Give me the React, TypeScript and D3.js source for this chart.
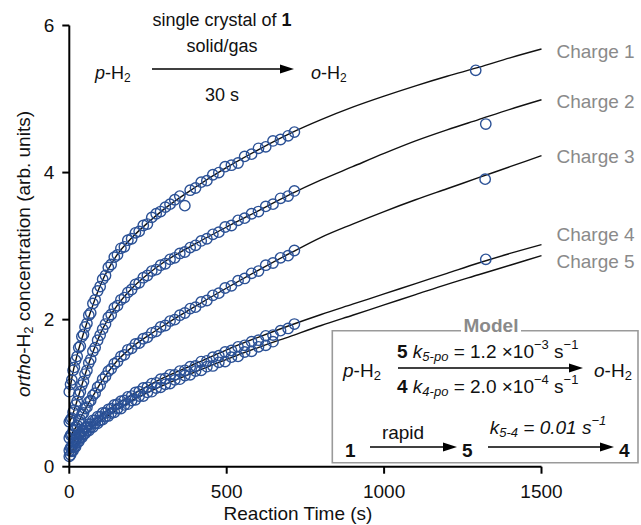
import React from 'react';
import * as d3 from 'd3';

// ---------- data ----------
const TIME = [0, 4, 8, 12, 16, 20, 25, 30, 35, 40, 45, 50, 56, 62, 68, 75, 82, 90, 98, 106, 115, 124, 133, 143, 153, 164, 175, 186, 198, 210, 222, 235, 248, 262, 276, 290, 305, 320, 335, 351, 367, 384, 401, 419, 437, 456, 475, 495, 515, 536, 557, 579, 601, 624, 647, 671, 695, 715];

const CHARGE1 = [1.02, 1.12, 1.18, 1.31, 1.35, 1.45, 1.50, 1.62, 1.64, 1.77, 1.80, 1.90, 1.95, 2.06, 2.09, 2.22, 2.27, 2.39, 2.45, 2.55, 2.60, 2.71, 2.75, 2.85, 2.88, 2.97, 2.99, 3.08, 3.10, 3.18, 3.20, 3.28, 3.30, 3.39, 3.44, 3.47, 3.53, 3.57, 3.63, 3.68, 3.55, 3.76, 3.79, 3.87, 3.89, 3.97, 4.00, 4.08, 4.10, 4.13, 4.22, 4.25, 4.33, 4.35, 4.43, 4.45, 4.50, 4.55];
const CHARGE2 = [0.61, 0.64, 0.66, 0.74, 0.77, 0.84, 0.89, 0.98, 1.02, 1.11, 1.16, 1.26, 1.31, 1.41, 1.46, 1.57, 1.62, 1.72, 1.79, 1.87, 1.94, 2.03, 2.07, 2.16, 2.19, 2.27, 2.30, 2.37, 2.41, 2.48, 2.50, 2.57, 2.60, 2.66, 2.68, 2.74, 2.76, 2.82, 2.84, 2.90, 2.92, 2.98, 3.01, 3.07, 3.10, 3.16, 3.19, 3.26, 3.28, 3.35, 3.38, 3.44, 3.47, 3.54, 3.57, 3.65, 3.68, 3.75];
const CHARGE3 = [0.39, 0.43, 0.44, 0.49, 0.50, 0.54, 0.56, 0.62, 0.64, 0.71, 0.73, 0.79, 0.81, 0.88, 0.90, 0.97, 1.00, 1.08, 1.11, 1.19, 1.23, 1.30, 1.33, 1.40, 1.43, 1.50, 1.52, 1.59, 1.61, 1.67, 1.68, 1.74, 1.76, 1.82, 1.84, 1.90, 1.92, 1.98, 2.00, 2.06, 2.09, 2.15, 2.17, 2.24, 2.26, 2.33, 2.36, 2.43, 2.46, 2.53, 2.56, 2.63, 2.66, 2.74, 2.77, 2.84, 2.87, 2.94];
const CHARGE4 = [0.22, 0.26, 0.27, 0.32, 0.33, 0.37, 0.39, 0.44, 0.45, 0.49, 0.49, 0.53, 0.54, 0.58, 0.58, 0.63, 0.63, 0.68, 0.68, 0.73, 0.73, 0.78, 0.79, 0.84, 0.85, 0.89, 0.90, 0.95, 0.96, 1.01, 1.02, 1.07, 1.08, 1.13, 1.14, 1.19, 1.20, 1.25, 1.25, 1.30, 1.31, 1.36, 1.37, 1.43, 1.44, 1.49, 1.51, 1.56, 1.58, 1.63, 1.65, 1.70, 1.72, 1.78, 1.79, 1.85, 1.88, 1.94];
const CHARGE5 = [0.14, 0.16, 0.21, 0.22, 0.27, 0.27, 0.33, 0.34, 0.39, 0.40, 0.44, 0.45, 0.49, 0.49, 0.54, 0.54, 0.59, 0.59, 0.63, 0.64, 0.68, 0.69, 0.73, 0.74, 0.79, 0.79, 0.84, 0.85, 0.90, 0.91, 0.96, 0.96, 1.01, 1.02, 1.07, 1.08, 1.12, 1.13, 1.18, 1.19, 1.24, 1.25, 1.30, 1.31, 1.36, 1.37, 1.42, 1.43, 1.49, 1.50, 1.56, 1.57, 1.63, 1.65, 1.70];

// late single measurements (charges 1-4)
const LATE_T = [1291, 1323, 1321, 1323];
const LATE_V = [5.39, 4.66, 3.91, 2.82];

// model fit curves
const FIT_T = [0, 10, 25, 50, 75, 100, 150, 200, 250, 300, 400, 500, 600, 700, 800, 900, 1000, 1100, 1200, 1300, 1400, 1500];
const FIT1 = [1.0, 1.25, 1.52, 1.88, 2.2, 2.48, 2.87, 3.12, 3.32, 3.5, 3.8, 4.07, 4.31, 4.53, 4.72, 4.89, 5.04, 5.18, 5.31, 5.43, 5.56, 5.68];
const FIT2 = [0.6, 0.7, 0.9, 1.25, 1.56, 1.82, 2.18, 2.43, 2.62, 2.78, 3.03, 3.26, 3.48, 3.70, 3.90, 4.08, 4.26, 4.43, 4.58, 4.72, 4.86, 4.99];
const FIT3 = [0.39, 0.46, 0.57, 0.78, 0.96, 1.14, 1.43, 1.63, 1.78, 1.92, 2.18, 2.43, 2.67, 2.9, 3.12, 3.30, 3.47, 3.63, 3.78, 3.93, 4.08, 4.23];
const FIT4 = [0.22, 0.3, 0.4, 0.52, 0.62, 0.7, 0.85, 0.98, 1.1, 1.21, 1.4, 1.59, 1.76, 1.92, 2.07, 2.21, 2.35, 2.49, 2.63, 2.77, 2.9, 3.02];
const FIT5 = [0.14, 0.22, 0.33, 0.46, 0.55, 0.63, 0.77, 0.9, 1.01, 1.11, 1.29, 1.46, 1.62, 1.77, 1.92, 2.06, 2.2, 2.34, 2.48, 2.61, 2.74, 2.87];

const SERIES_NAMES = ['Charge 1', 'Charge 2', 'Charge 3', 'Charge 4', 'Charge 5'];
const X_TICKS = [0, 500, 1000, 1500];
const Y_TICKS = [0, 2, 4, 6];

// ---------- layout ----------
const W = 641;
const H = 525;
const FONT = "'Liberation Sans', Arial, Helvetica, sans-serif";
const BLUE = '#2b5196';
const GRAY = '#8a8a8a';
const LABEL_DY = [2, 2, 1, -10, 6];

function Arrow({ x1, x2, y }: { x1: number; x2: number; y: number }) {
  return (
    <g>
      <line x1={x1} x2={x2 - 10} y1={y} y2={y} stroke="#000" strokeWidth={1.6} />
      <path d={`M${x2},${y} L${x2 - 14},${y - 4.5} L${x2 - 14},${y + 4.5} Z`} fill="#000" />
    </g>
  );
}

export default function App() {
  const x = d3.scaleLinear().domain([0, 1500]).range([69.3, 541.5]);
  const y = d3.scaleLinear().domain([0, 6]).range([466.7, 25.5]);

  const fits = [FIT1, FIT2, FIT3, FIT4, FIT5];
  const data = [CHARGE1, CHARGE2, CHARGE3, CHARGE4, CHARGE5];

  const lineGen = d3
    .line<[number, number]>()
    .x((d) => x(d[0]))
    .y((d) => y(d[1]))
    .curve(d3.curveMonotoneX);

  const points: { cx: number; cy: number; key: string }[] = [];
  data.forEach((vals, s) => {
    vals.forEach((v, i) => {
      points.push({ cx: x(TIME[i]), cy: y(v), key: `p${s}-${i}` });
    });
  });
  LATE_T.forEach((t, i) => points.push({ cx: x(t), cy: y(LATE_V[i]), key: `late${i}` }));

  const x0 = x(0);
  const y0 = y(0);

  return (
    <svg
      width={W}
      height={H}
      viewBox={`0 0 ${W} ${H}`}
      style={{ position: 'absolute', left: 0, top: 0, background: '#fff' }}
      fontFamily={FONT}
    >
      <rect x={0} y={0} width={W} height={H} fill="#fff" />

      {/* fit lines */}
      {fits.map((f, s) => (
        <path
          key={`fit${s}`}
          d={lineGen(FIT_T.map((t, i) => [t, f[i]] as [number, number])) || ''}
          fill="none"
          stroke="#111"
          strokeWidth={1.4}
        />
      ))}

      {/* data points */}
      {points.map((p) => (
        <circle key={p.key} cx={p.cx} cy={p.cy} r={5.2} fill="none" stroke={BLUE} strokeWidth={1.4} />
      ))}

      {/* series labels */}
      {fits.map((f, s) => (
        <text
          key={`lab${s}`}
          x={x(1500) + 15}
          y={y(f[f.length - 1]) + LABEL_DY[s]}
          fontSize={19}
          fill={GRAY}
          dominantBaseline="central"
        >
          {SERIES_NAMES[s]}
        </text>
      ))}

      {/* axes */}
      <line x1={x0} x2={x0} y1={y(6)} y2={y0} stroke="#000" strokeWidth={2} />
      <line x1={x0} x2={x(1500)} y1={y0} y2={y0} stroke="#000" strokeWidth={2} />
      {Y_TICKS.map((t) => (
        <g key={`yt${t}`}>
          <line x1={x0 - 7} x2={x0} y1={y(t)} y2={y(t)} stroke="#000" strokeWidth={2} />
          <text x={x0 - 15} y={y(t)} fontSize={19} textAnchor="end" dominantBaseline="central" fill="#111">
            {t}
          </text>
        </g>
      ))}
      {X_TICKS.map((t) => (
        <g key={`xt${t}`}>
          <line x1={x(t)} x2={x(t)} y1={y0} y2={y0 + 7} stroke="#000" strokeWidth={2} />
          <text x={x(t)} y={491} fontSize={19} textAnchor="middle" dominantBaseline="central" fill="#111">
            {t}
          </text>
        </g>
      ))}
      <text x={298} y={513} fontSize={19} textAnchor="middle" dominantBaseline="central" fill="#111">
        Reaction Time (s)
      </text>
      <text
        transform="translate(23,254) rotate(-90)"
        fontSize={19}
        textAnchor="middle"
        dominantBaseline="central"
        fill="#111"
      >
        <tspan fontStyle="italic">ortho</tspan>
        <tspan>-H</tspan>
        <tspan fontSize={13} dy={5}>2</tspan>
        <tspan dy={-5}> concentration (arb. units)</tspan>
      </text>

      {/* top annotation */}
      <text x={95} y={73} fontSize={18} dominantBaseline="central" fill="#111">
        <tspan fontStyle="italic">p</tspan>
        <tspan>-H</tspan>
        <tspan fontSize={12} dy={5}>2</tspan>
      </text>
      <Arrow x1={152} x2={294} y={69} />
      <text x={311} y={73} fontSize={18} dominantBaseline="central" fill="#111">
        <tspan fontStyle="italic">o</tspan>
        <tspan>-H</tspan>
        <tspan fontSize={12} dy={5}>2</tspan>
      </text>
      <text x={222} y={20} fontSize={18} textAnchor="middle" dominantBaseline="central" fill="#111">
        single crystal of <tspan fontWeight="bold">1</tspan>
      </text>
      <text x={222} y={46} fontSize={18} textAnchor="middle" dominantBaseline="central" fill="#111">
        solid/gas
      </text>
      <text x={222} y={95} fontSize={18} textAnchor="middle" dominantBaseline="central" fill="#111">
        30 s
      </text>

      {/* model box */}
      <path d="M461,330.7 H332.3 V462.7 H638 V330.7 H521" fill="none" stroke="#9a9a9a" strokeWidth={1.6} />
      <text x={491} y={325} fontSize={19} fontWeight="bold" textAnchor="middle" dominantBaseline="central" fill={GRAY}>
        Model
      </text>
      <text x={343} y={370} fontSize={19} dominantBaseline="central" fill="#111">
        <tspan fontStyle="italic">p</tspan>
        <tspan>-H</tspan>
        <tspan fontSize={13} dy={5}>2</tspan>
      </text>
      <Arrow x1={398} x2={583} y={368} />
      <text x={594} y={370} fontSize={19} dominantBaseline="central" fill="#111">
        <tspan fontStyle="italic">o</tspan>
        <tspan>-H</tspan>
        <tspan fontSize={13} dy={5}>2</tspan>
      </text>
      <text x={397} y={351} fontSize={19} dominantBaseline="central" fill="#111">
        <tspan fontWeight="bold">5 </tspan>
        <tspan fontStyle="italic">k</tspan>
        <tspan fontStyle="italic" fontSize={13} dy={5}>5-po</tspan>
        <tspan dy={-5}> = 1.2 ×10</tspan>
        <tspan fontSize={13} dy={-7}>−3</tspan>
        <tspan dy={7}> s</tspan>
        <tspan fontSize={13} dy={-7}>−1</tspan>
      </text>
      <text x={397} y={386} fontSize={19} dominantBaseline="central" fill="#111">
        <tspan fontWeight="bold">4 </tspan>
        <tspan fontStyle="italic">k</tspan>
        <tspan fontStyle="italic" fontSize={13} dy={5}>4-po</tspan>
        <tspan dy={-5}> = 2.0 ×10</tspan>
        <tspan fontSize={13} dy={-7}>−4</tspan>
        <tspan dy={7}> s</tspan>
        <tspan fontSize={13} dy={-7}>−1</tspan>
      </text>

      <text x={345} y={450} fontSize={19} fontWeight="bold" dominantBaseline="central" fill="#111">
        1
      </text>
      <Arrow x1={370} x2={457} y={447} />
      <text x={403} y={432} fontSize={19} textAnchor="middle" dominantBaseline="central" fill="#111">
        rapid
      </text>
      <text x={462} y={450} fontSize={19} fontWeight="bold" dominantBaseline="central" fill="#111">
        5
      </text>
      <Arrow x1={488} x2={614} y={447} />
      <text x={548} y={427} fontSize={19} fontStyle="italic" textAnchor="middle" dominantBaseline="central" fill="#111">
        <tspan>k</tspan>
        <tspan fontSize={13} dy={5}>5-4</tspan>
        <tspan dy={-5}> = 0.01 s</tspan>
        <tspan fontSize={13} dy={-7}>−1</tspan>
      </text>
      <text x={619} y={450} fontSize={19} fontWeight="bold" dominantBaseline="central" fill="#111">
        4
      </text>
    </svg>
  );
}
